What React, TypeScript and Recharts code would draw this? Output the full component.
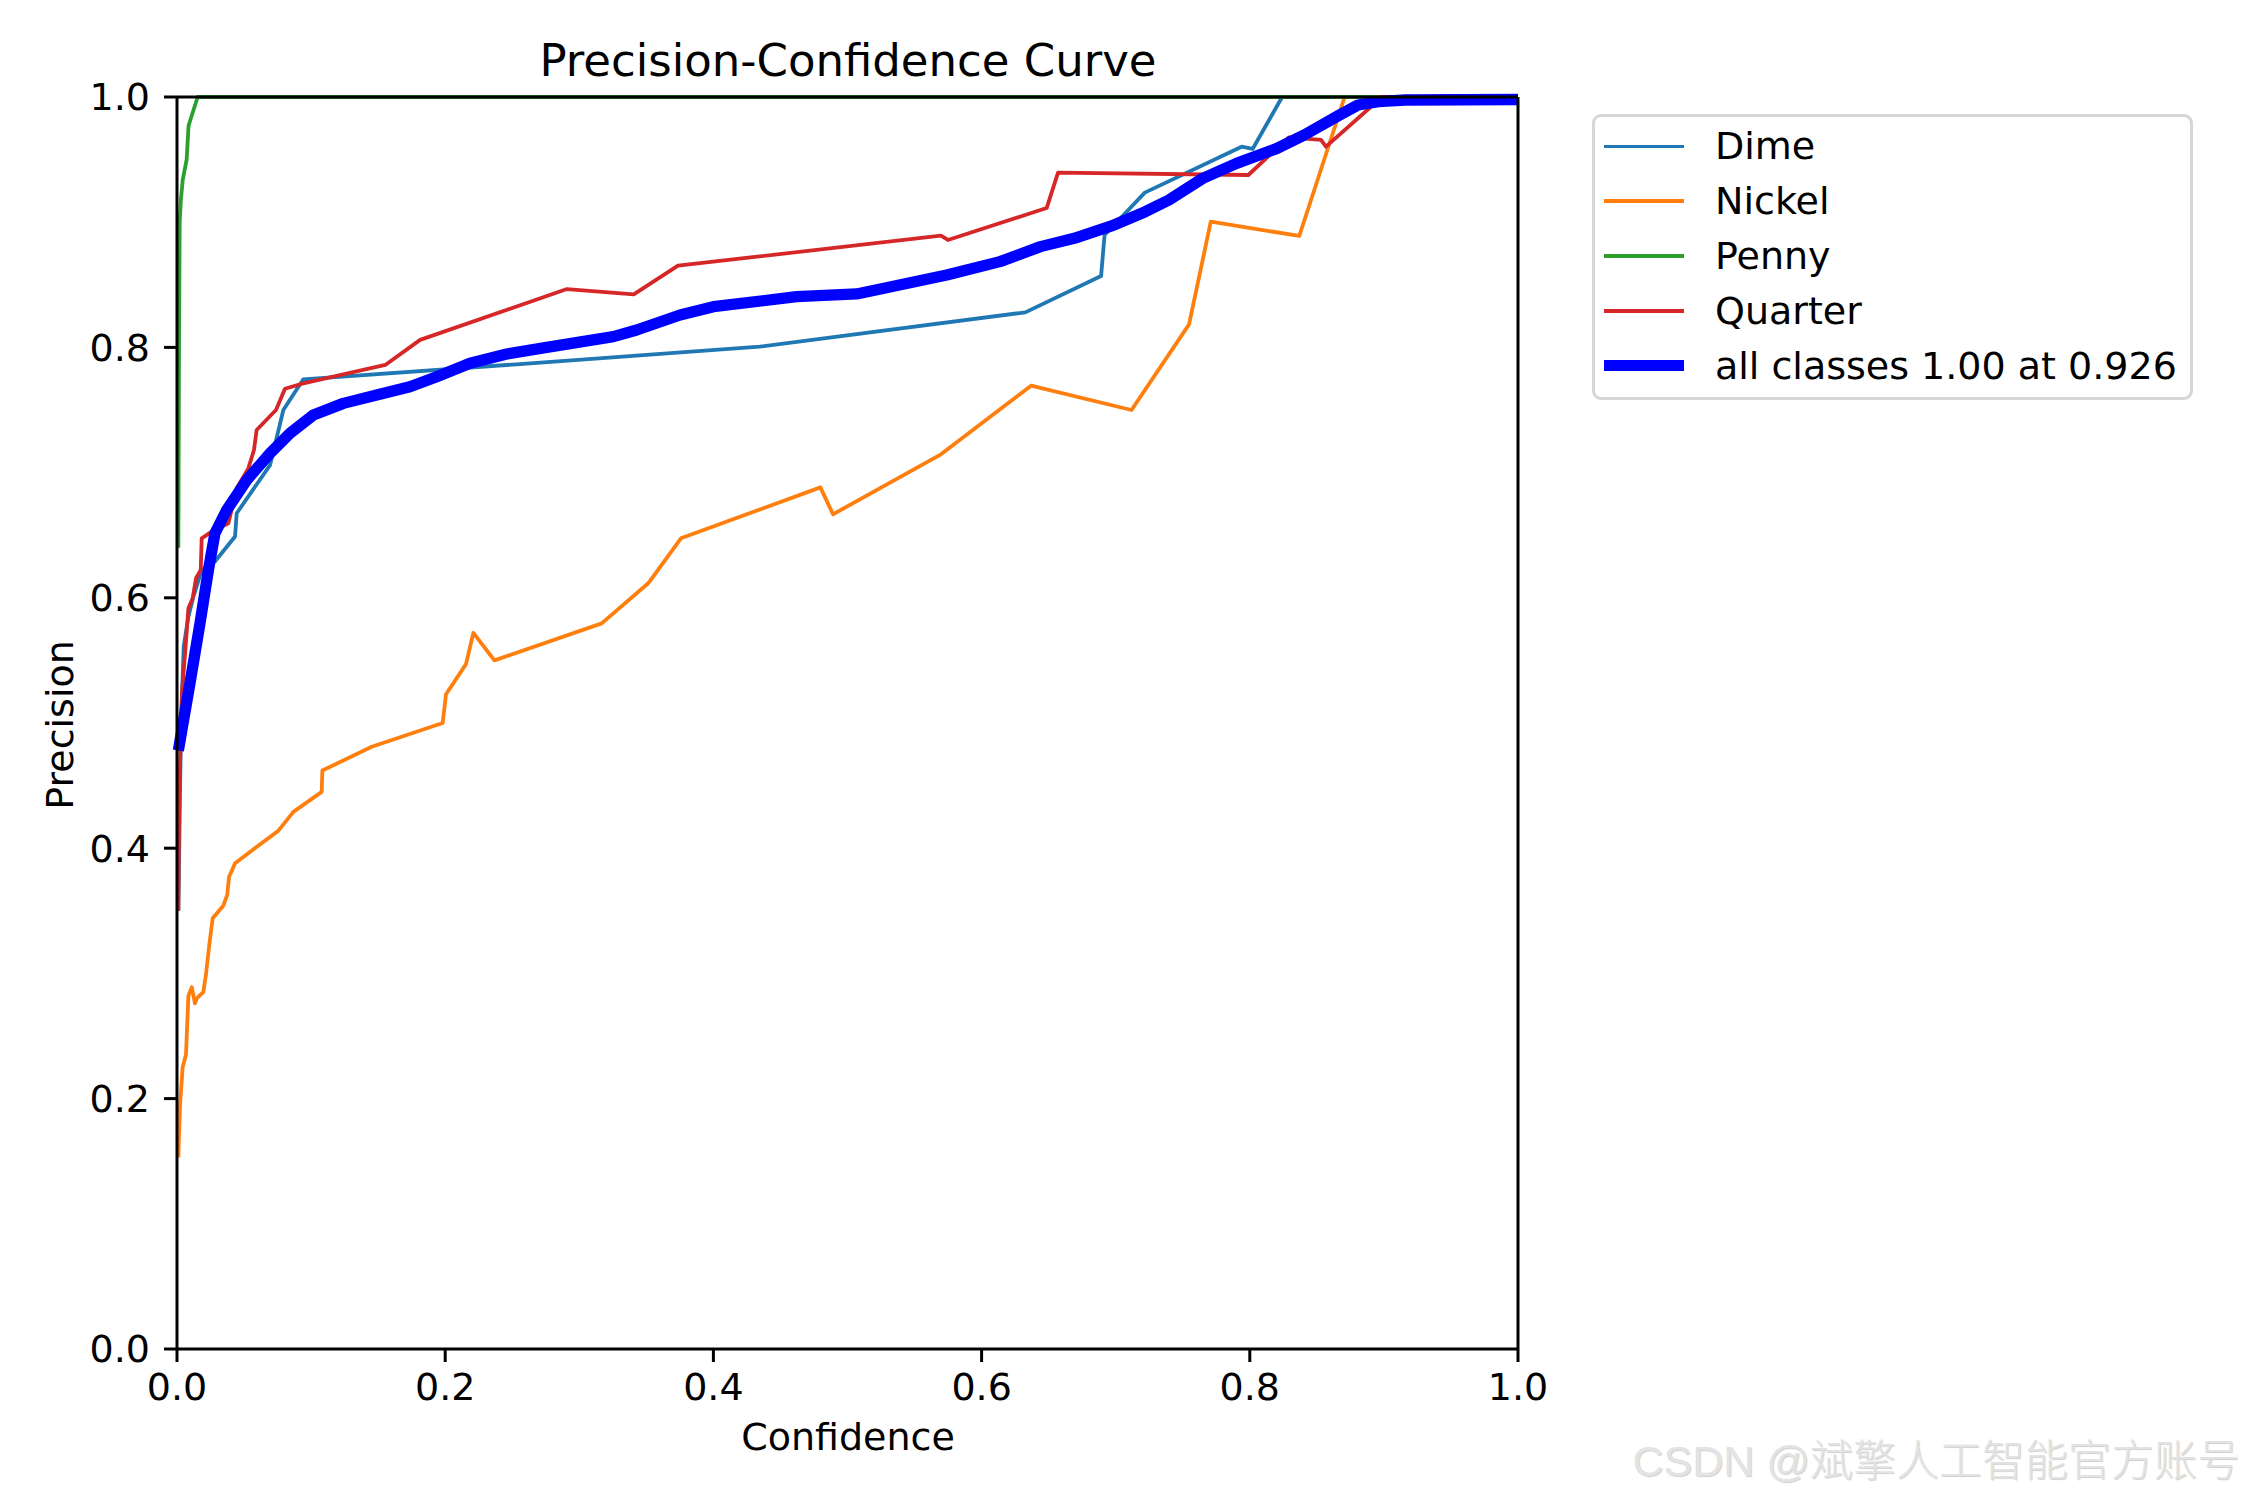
import React from "react"
import { LineChart, Line, XAxis, YAxis, Legend, ReferenceLine } from "recharts"

// [confidence, precision]
const dime: [number, number][] = [
  [0.001, 0.35], [0.003, 0.5], [0.005, 0.561], [0.0085, 0.585], [0.012, 0.6],
  [0.0184, 0.622], [0.0283, 0.629], [0.0433, 0.649], [0.0445, 0.6675], [0.0694, 0.706],
  [0.0793, 0.75], [0.0942, 0.7745], [0.2558, 0.7867], [0.4345, 0.8006], [0.6326, 0.828],
  [0.6891, 0.857], [0.6917, 0.8898], [0.7217, 0.9236], [0.7939, 0.9603], [0.8021, 0.9585],
  [0.8241, 1.0], [1.0, 1.0],
]

const nickel: [number, number][] = [
  [0.001, 0.153], [0.0022, 0.194], [0.0042, 0.225], [0.0067, 0.235], [0.0085, 0.282],
  [0.011, 0.289], [0.0134, 0.276], [0.0147, 0.28], [0.0196, 0.285], [0.0216, 0.299],
  [0.0241, 0.323], [0.0266, 0.344], [0.0345, 0.354], [0.0375, 0.363], [0.0388, 0.377],
  [0.0433, 0.388], [0.0756, 0.414], [0.0868, 0.429], [0.1079, 0.445], [0.1084, 0.462],
  [0.1452, 0.481], [0.1981, 0.5], [0.2006, 0.523], [0.2155, 0.547], [0.221, 0.572],
  [0.2367, 0.55], [0.3167, 0.5796], [0.3514, 0.6116], [0.3758, 0.6475], [0.4798, 0.6882],
  [0.4892, 0.6667], [0.5697, 0.7146], [0.6369, 0.7694], [0.7118, 0.75], [0.7547, 0.8184],
  [0.7709, 0.9004], [0.8369, 0.889], [0.8707, 1.0], [1.0, 1.0],
]

const penny: [number, number][] = [
  [0.001, 0.64], [0.0015, 0.8], [0.002, 0.9], [0.0029, 0.918], [0.0043, 0.934],
  [0.0072, 0.95], [0.0086, 0.977], [0.0154, 1.0], [1.0, 1.0],
]

const quarter: [number, number][] = [
  [0.001, 0.35], [0.0017, 0.444], [0.0037, 0.524], [0.0062, 0.558], [0.0085, 0.5916],
  [0.0117, 0.5996], [0.0142, 0.6156], [0.0177, 0.6222], [0.0184, 0.6475], [0.0259, 0.6528],
  [0.0383, 0.6595], [0.0445, 0.6875], [0.0532, 0.7034], [0.0574, 0.718], [0.0594, 0.734],
  [0.0738, 0.75], [0.0805, 0.767], [0.0942, 0.7713], [0.1553, 0.786], [0.1813, 0.806],
  [0.2908, 0.8466], [0.3406, 0.8424], [0.3736, 0.8653], [0.5697, 0.8892], [0.5749, 0.8858],
  [0.6485, 0.9113], [0.657, 0.9396], [0.7989, 0.9377], [0.829, 0.9678], [0.8531, 0.9657],
  [0.8568, 0.9603], [0.8933, 0.995], [0.897, 1.0], [1.0, 1.0],
]

const allClasses: [number, number][] = [
  [0.001, 0.478], [0.0097, 0.532], [0.0172, 0.58], [0.0234, 0.622], [0.0283, 0.6515],
  [0.037, 0.67], [0.052, 0.694], [0.0694, 0.7154], [0.0843, 0.7314], [0.1017, 0.746],
  [0.124, 0.7553], [0.1489, 0.762], [0.1737, 0.7686], [0.1937, 0.7766], [0.2185, 0.7873],
  [0.2459, 0.7947], [0.2757, 0.8], [0.3254, 0.8086], [0.3428, 0.8139], [0.3751, 0.8259],
  [0.4, 0.8325], [0.4621, 0.8405], [0.5069, 0.8427], [0.574, 0.8578], [0.6137, 0.8685],
  [0.6439, 0.8805], [0.6691, 0.8871], [0.6969, 0.897], [0.7221, 0.9084], [0.7397, 0.9177],
  [0.7649, 0.935], [0.7901, 0.947], [0.8203, 0.959], [0.8404, 0.9696], [0.8656, 0.9848],
  [0.8807, 0.9936], [0.8959, 0.9963], [0.916, 0.9976], [1.0, 0.998],
]

const TICKS = [0, 0.2, 0.4, 0.6, 0.8, 1.0]

const SERIES = [
  { name: "Dime", color: "#1f77b4", width: 3.8, points: dime },
  { name: "Nickel", color: "#ff7f0e", width: 3.8, points: nickel },
  { name: "Penny", color: "#2ca02c", width: 3.8, points: penny },
  { name: "Quarter", color: "#d62728", width: 3.8, points: quarter },
  { name: "all classes 1.00 at 0.926", color: "#0000ff", width: 11.3, points: allClasses },
]

const FONT = "'DejaVu Sans', sans-serif"
const tickStyle = { fontSize: 38, fill: "#000", fontFamily: FONT }

function LegendBox() {
  return (
    <div
      style={{
        width: 601,
        height: 286,
        boxSizing: "border-box",
        border: "3px solid #d6d6d6",
        borderRadius: 9,
        background: "rgba(255,255,255,0.8)",
        paddingTop: 2,
        fontFamily: FONT,
        fontSize: 38,
        color: "#000",
      }}
    >
      {SERIES.map((s) => (
        <div key={s.name} style={{ height: 54.8, display: "flex", alignItems: "center" }}>
          <div style={{ marginLeft: 9, width: 80, height: s.width, background: s.color }} />
          <div style={{ marginLeft: 31, whiteSpace: "nowrap", lineHeight: 1 }}>{s.name}</div>
        </div>
      ))}
    </div>
  )
}

export default function App() {
  return (
    <div style={{ position: "absolute", left: 0, top: 0, width: 2250, height: 1500, background: "#fff" }}>
      <LineChart width={2250} height={1500} margin={{ top: 97, right: 732, bottom: 91, left: 77 }}>
        <XAxis
          dataKey="x"
          type="number"
          domain={[0, 1]}
          ticks={TICKS}
          tickFormatter={(v: number) => v.toFixed(1)}
          tick={tickStyle}
          tickSize={13}
          tickMargin={11}
          height={60}
          axisLine={{ stroke: "#000", strokeWidth: 3 }}
          tickLine={{ stroke: "#000", strokeWidth: 3 }}
        />
        <YAxis
          type="number"
          domain={[0, 1]}
          ticks={TICKS}
          tickFormatter={(v: number) => v.toFixed(1)}
          tick={tickStyle}
          tickSize={13}
          tickMargin={14}
          width={100}
          axisLine={{ stroke: "#000", strokeWidth: 3 }}
          tickLine={{ stroke: "#000", strokeWidth: 3 }}
        />
        {SERIES.map((s) => (
          <Line
            key={s.name}
            name={s.name}
            data={s.points.map(([x, y]) => ({ x, y }))}
            dataKey="y"
            type="linear"
            stroke={s.color}
            strokeWidth={s.width}
            strokeLinejoin="round"
            dot={false}
            activeDot={false}
            isAnimationActive={false}
          />
        ))}
        <ReferenceLine y={1} stroke="#000" strokeWidth={3} />
        <ReferenceLine x={1} stroke="#000" strokeWidth={3} />
        <Legend
          layout="vertical"
          align="center"
          verticalAlign="middle"
          wrapperStyle={{ left: 1592, top: 114, width: 601, height: 286 }}
          content={() => <LegendBox />}
        />
      </LineChart>

      <div
        style={{
          position: "absolute", left: 348, width: 1000, top: 38, textAlign: "center",
          fontFamily: FONT, fontSize: 45, lineHeight: 1, color: "#000",
        }}
      >
        Precision-Confidence Curve
      </div>
      <div
        style={{
          position: "absolute", left: 348, width: 1000, top: 1418, textAlign: "center",
          fontFamily: FONT, fontSize: 38, lineHeight: 1, color: "#000",
        }}
      >
        Confidence
      </div>
      <div
        style={{
          position: "absolute", left: 60, top: 725, width: 0, height: 0,
        }}
      >
        <div
          style={{
            position: "absolute", left: -200, top: -19, width: 400, textAlign: "center",
            transform: "rotate(-90deg)", fontFamily: FONT, fontSize: 38, lineHeight: 1, color: "#000",
          }}
        >
          Precision
        </div>
      </div>
      <div
        style={{
          position: "absolute", right: 10, top: 1440, whiteSpace: "nowrap",
          fontFamily: "'Liberation Sans', 'Noto Sans CJK SC', sans-serif", fontSize: 43, lineHeight: 1,
          fontWeight: 300, color: "#e3e3e3", textShadow: "1px 1px 1px #d0d0d0",
        }}
      >
        CSDN @斌擎人工智能官方账号
      </div>
    </div>
  )
}
